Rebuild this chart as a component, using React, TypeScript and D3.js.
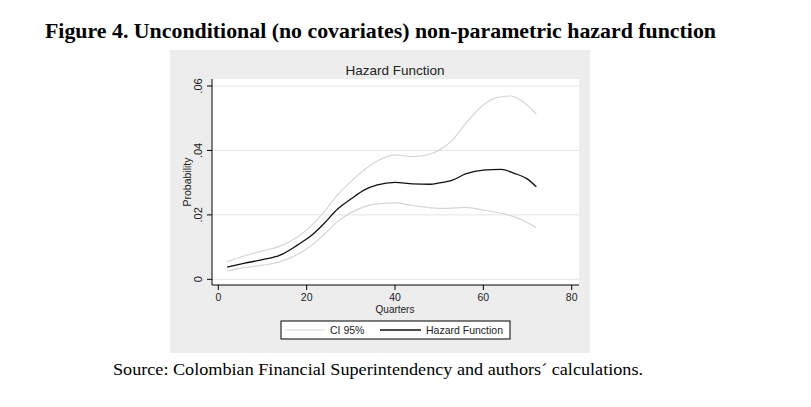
import { useEffect, useRef } from "react"
import * as d3 from "d3"

const quarters = [2, 6, 10, 14, 18, 21, 24, 27, 30, 33, 36, 40, 44, 48, 50, 53, 56, 60, 64, 67, 70, 72]
const hazard = [.0038, .0050, .0061, .0075, .0107, .0135, .0174, .0218, .0249, .0277, .0293, .0301, .0296, .0295, .0299, .0308, .0327, .0339, .0341, .0329, .0311, .0287]

const upperQuarters = [2, 6, 10, 14, 18, 21, 24, 27, 30, 33, 36, 40, 44, 48, 50, 53, 56, 60, 63, 66, 69, 72]
const upperCI = [.0055, .0073, .0088, .0103, .0132, .0166, .0210, .0262, .0303, .0339, .0367, .0386, .0381, .0389, .0401, .0432, .0484, .0541, .0564, .0569, .0551, .0512]

const lowerQuarters = [2, 6, 10, 14, 18, 21, 24, 27, 30, 33, 36, 40, 44, 48, 52, 56, 60, 64, 68, 72]
const lowerCI = [.0026, .0036, .0044, .0055, .0078, .0104, .0140, .0179, .0207, .0225, .0234, .0237, .0229, .0222, .0220, .0223, .0215, .0205, .0189, .0160]

const xTicks = [0, 20, 40, 60, 80]
const yTicks = [0, .02, .04, .06]
const yTickLabels = ["0", ".02", ".04", ".06"]

const width = 811
const height = 407

export default function App() {
  const svgRef = useRef<SVGSVGElement>(null)

  useEffect(() => {
    if (!svgRef.current) return
    const svg = d3.select(svgRef.current)
    svg.selectAll("*").remove()

    const sans = "'Liberation Sans', Arial, sans-serif"
    const serif = "'Liberation Serif', 'Times New Roman', serif"

    // figure caption
    svg.append("text")
      .attr("x", 45).attr("y", 38)
      .attr("font-family", serif).attr("font-weight", "bold").attr("font-size", 21)
      .attr("textLength", 671).attr("lengthAdjust", "spacingAndGlyphs")
      .text("Figure 4. Unconditional (no covariates) non-parametric hazard function")

    // graph region
    svg.append("rect")
      .attr("x", 170).attr("y", 50).attr("width", 420).attr("height", 303)
      .attr("fill", "#ededed")

    const plot = { left: 212, right: 579, top: 79, bottom: 285 }
    svg.append("rect")
      .attr("x", plot.left).attr("y", plot.top)
      .attr("width", plot.right - plot.left).attr("height", plot.bottom - plot.top)
      .attr("fill", "#fff")

    const xScale = d3.scaleLinear().domain([0, 80]).range([218.3, 571.7])
    const yScale = d3.scaleLinear().domain([0, .06]).range([279.3, 86])

    // gridlines
    svg.append("g").selectAll("line").data(yTicks).enter().append("line")
      .attr("x1", plot.left).attr("x2", plot.right)
      .attr("y1", d => yScale(d)).attr("y2", d => yScale(d))
      .attr("stroke", "#e4e4e4").attr("stroke-width", 1)

    // curves
    const line = d3.line<[number, number]>()
      .x(d => xScale(d[0])).y(d => yScale(d[1]))
      .curve(d3.curveMonotoneX)

    const up = upperQuarters.map((q, i) => [q, upperCI[i]] as [number, number])
    const lo = lowerQuarters.map((q, i) => [q, lowerCI[i]] as [number, number])
    const hz = quarters.map((q, i) => [q, hazard[i]] as [number, number])

    ;[up, lo].forEach(pts => {
      svg.append("path").datum(pts).attr("d", line)
        .attr("fill", "none").attr("stroke", "#d6d6d6").attr("stroke-width", 1.2)
    })
    svg.append("path").datum(hz).attr("d", line)
      .attr("fill", "none").attr("stroke", "#111").attr("stroke-width", 1.3)

    // y axis
    svg.append("line")
      .attr("x1", plot.left).attr("x2", plot.left)
      .attr("y1", plot.top).attr("y2", plot.bottom)
      .attr("stroke", "#000")
    const yAxis = svg.append("g")
    yTicks.forEach((t, i) => {
      yAxis.append("line")
        .attr("x1", plot.left - 5).attr("x2", plot.left)
        .attr("y1", yScale(t)).attr("y2", yScale(t))
        .attr("stroke", "#000")
      yAxis.append("text")
        .attr("transform", `translate(202, ${yScale(t)}) rotate(-90)`)
        .attr("text-anchor", "middle")
        .attr("font-family", sans).attr("font-size", 11).attr("fill", "#222")
        .text(yTickLabels[i])
    })
    svg.append("text")
      .attr("transform", `translate(191, 182) rotate(-90)`)
      .attr("text-anchor", "middle")
      .attr("font-family", sans).attr("font-size", 10.5).attr("fill", "#222")
      .text("Probability")

    // x axis
    svg.append("line")
      .attr("x1", plot.left).attr("x2", plot.right)
      .attr("y1", plot.bottom).attr("y2", plot.bottom)
      .attr("stroke", "#000")
    const xAxis = svg.append("g")
    xTicks.forEach(t => {
      xAxis.append("line")
        .attr("x1", xScale(t)).attr("x2", xScale(t))
        .attr("y1", plot.bottom).attr("y2", plot.bottom + 5)
        .attr("stroke", "#000")
      xAxis.append("text")
        .attr("x", xScale(t)).attr("y", 301)
        .attr("text-anchor", "middle")
        .attr("font-family", sans).attr("font-size", 10.5).attr("fill", "#222")
        .text(String(t))
    })
    svg.append("text")
      .attr("x", xScale(40)).attr("y", 312.5)
      .attr("text-anchor", "middle")
      .attr("font-family", sans).attr("font-size", 10).attr("fill", "#222")
      .text("Quarters")

    // title
    svg.append("text")
      .attr("x", 395).attr("y", 75)
      .attr("text-anchor", "middle")
      .attr("font-family", sans).attr("font-size", 13.5).attr("fill", "#222")
      .text("Hazard Function")

    // legend
    const legend = svg.append("g")
    legend.append("rect")
      .attr("x", 281).attr("y", 321).attr("width", 229).attr("height", 18)
      .attr("fill", "#fff").attr("stroke", "#000").attr("stroke-width", 1)
    legend.append("line")
      .attr("x1", 285).attr("x2", 325).attr("y1", 330).attr("y2", 330)
      .attr("stroke", "#d6d6d6").attr("stroke-width", 1.2)
    legend.append("text")
      .attr("x", 330).attr("y", 334)
      .attr("font-family", sans).attr("font-size", 10.5).attr("fill", "#222")
      .text("CI 95%")
    legend.append("line")
      .attr("x1", 380).attr("x2", 421).attr("y1", 330).attr("y2", 330)
      .attr("stroke", "#111").attr("stroke-width", 1.3)
    legend.append("text")
      .attr("x", 426).attr("y", 334)
      .attr("font-family", sans).attr("font-size", 10.5).attr("fill", "#222")
      .text("Hazard Function")

    // source note
    svg.append("text")
      .attr("x", 113).attr("y", 375)
      .attr("font-family", serif).attr("font-size", 16.5)
      .attr("textLength", 530).attr("lengthAdjust", "spacingAndGlyphs")
      .text("Source: Colombian Financial Superintendency and authors´ calculations.")
  }, [])

  return (
    <svg
      ref={svgRef}
      width={width}
      height={height}
      viewBox={`0 0 ${width} ${height}`}
      style={{ position: "absolute", left: 0, top: 0, background: "#fff" }}
      xmlns="http://www.w3.org/2000/svg"
    ></svg>
  )
}
